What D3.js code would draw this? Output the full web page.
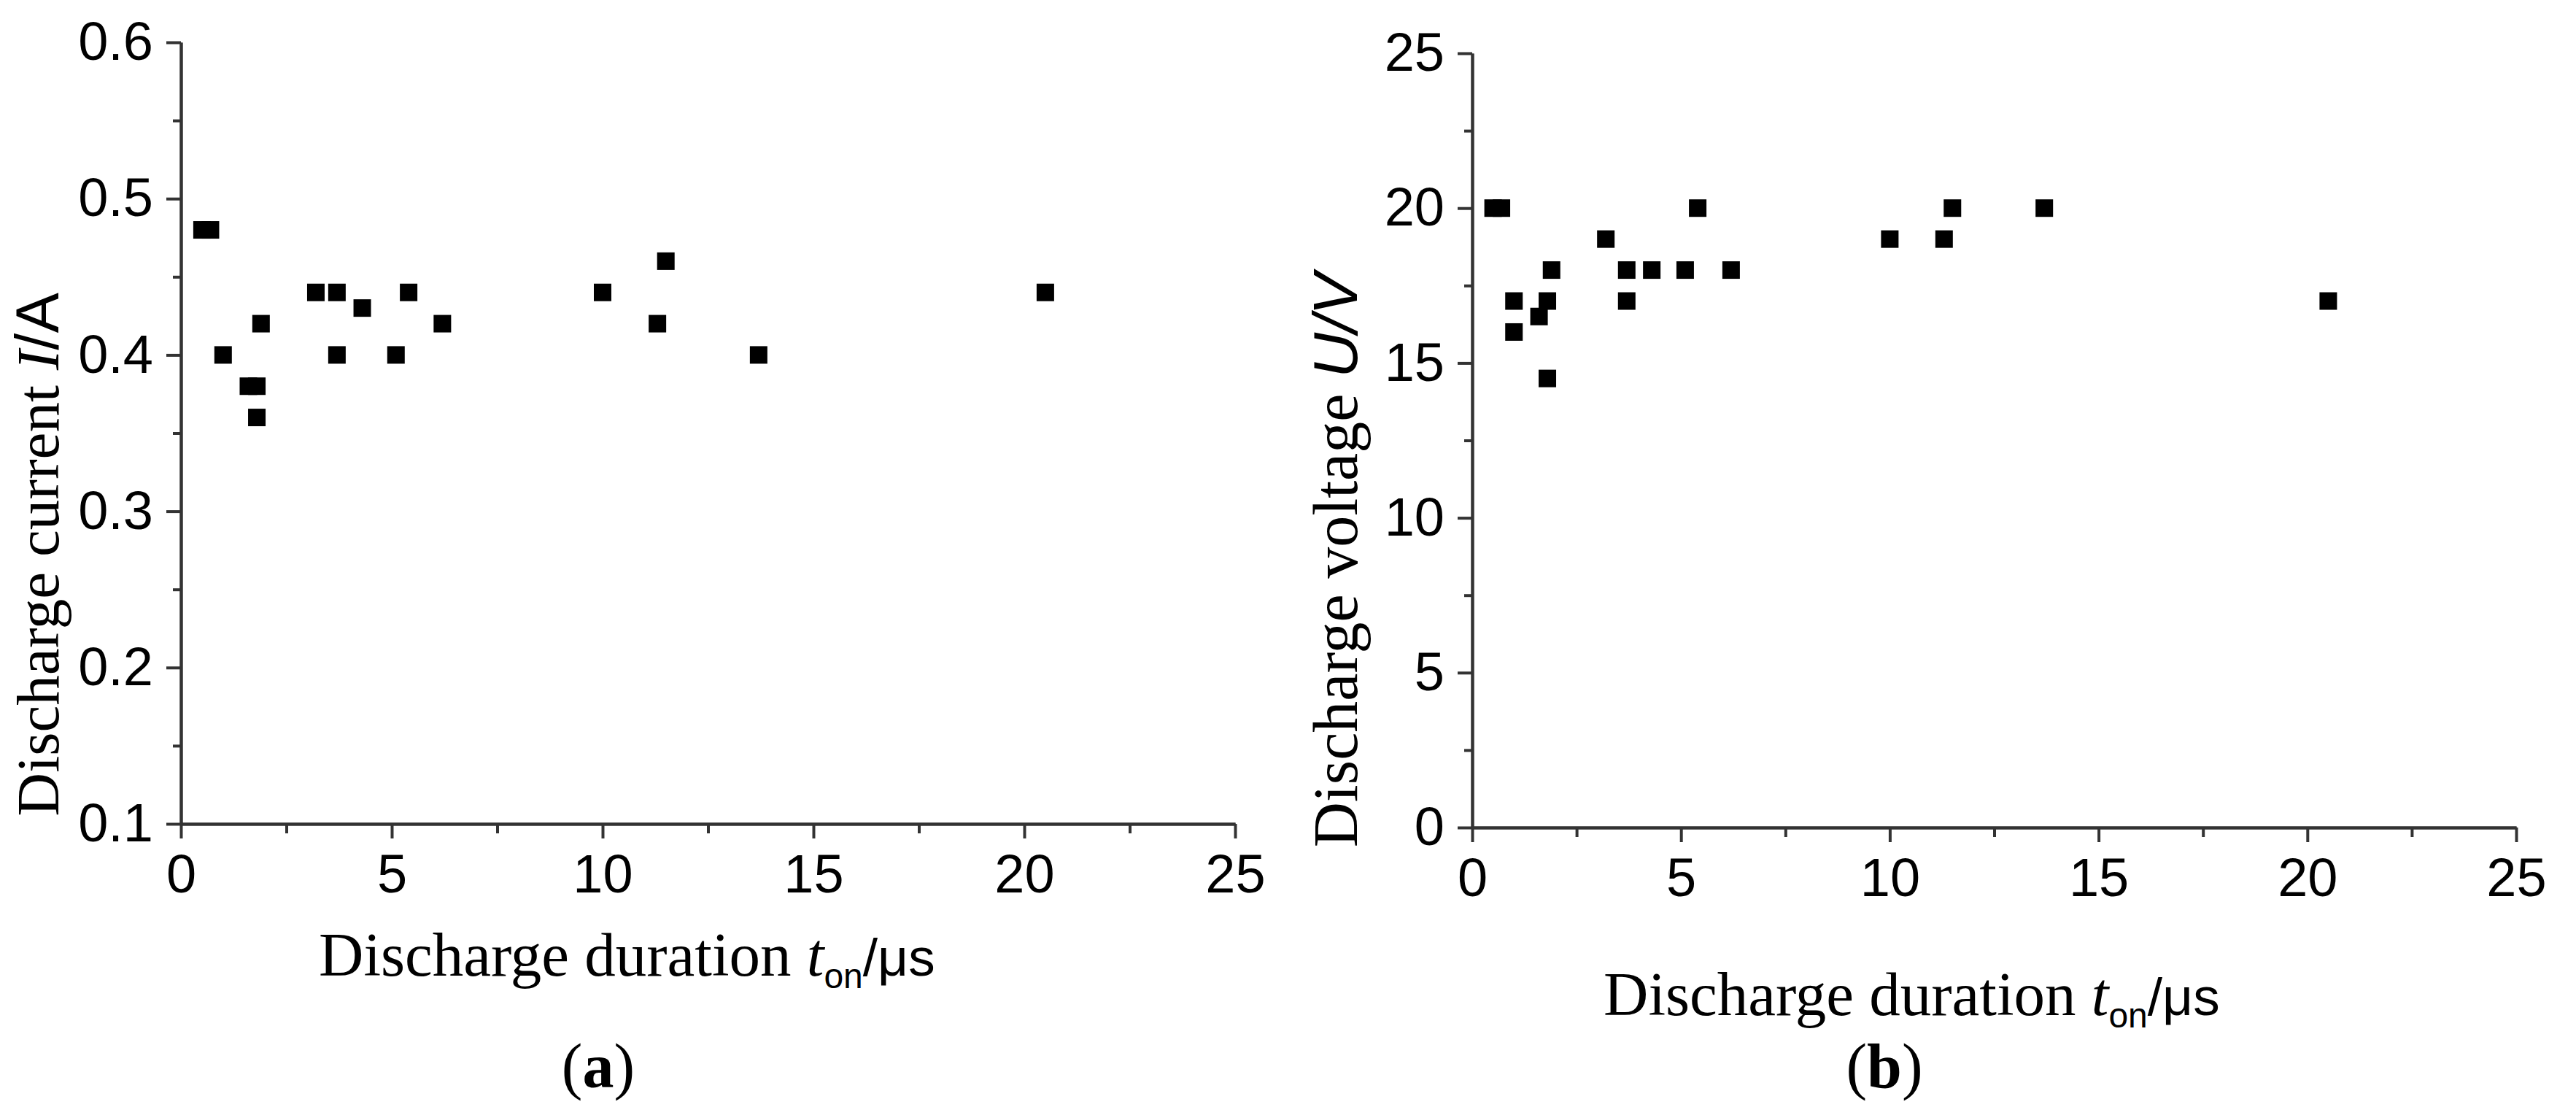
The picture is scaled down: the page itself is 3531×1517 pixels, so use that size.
<!DOCTYPE html>
<html>
<head>
<meta charset="utf-8">
<script src="https://cdn.jsdelivr.net/npm/d3@7"></script>
<style>
  body { margin: 0; background: #fff; }
  svg { display: block; }
</style>
</head>
<body>
<div id="chart"></div>
<script>
// discharge duration t_on (us) for each point
var durA = [0.5, 0.7, 1.0, 1.6, 1.8, 1.8, 1.9, 3.2, 3.7, 3.7, 4.3, 5.1, 5.4, 6.2, 10.0, 11.3, 11.5, 13.7, 20.5];
var currentA = [0.48, 0.48, 0.40, 0.38, 0.38, 0.36, 0.42, 0.44, 0.44, 0.40, 0.43, 0.40, 0.44, 0.42, 0.44, 0.42, 0.46, 0.40, 0.44];

var durB = [0.5, 0.7, 1.0, 1.0, 1.6, 1.8, 1.8, 1.9, 3.2, 3.7, 3.7, 4.3, 5.1, 5.4, 6.2, 10.0, 11.3, 11.5, 13.7, 20.5];
var voltageB = [20, 20, 17, 16, 16.5, 17, 14.5, 18, 19, 18, 17, 18, 18, 20, 18, 19, 19, 20, 20, 17];

var xTicks = [0, 5, 10, 15, 20, 25];
var xMinor = [2.5, 7.5, 12.5, 17.5, 22.5];
var yTicksA = [0.1, 0.2, 0.3, 0.4, 0.5, 0.6];
var yMinorA = [0.15, 0.25, 0.35, 0.45, 0.55];
var yTicksB = [0, 5, 10, 15, 20, 25];
var yMinorB = [2.5, 7.5, 12.5, 17.5, 22.5];

var width = 3531, height = 1517;
var axisColor = "#333";
var sans = "'Liberation Sans', Arial, sans-serif";
var serif = "'Liberation Serif', 'Times New Roman', serif";

var svg = d3.select("#chart")
  .append("svg")
  .attr("width", width)
  .attr("height", height);

function drawPanel(p) {
  var x = d3.scaleLinear().domain([0, 25]).range([p.left, p.right]);
  var y = d3.scaleLinear().domain(p.yDomain).range([p.bottom, p.top]);

  var g = svg.append("g");

  // minor ticks first, no labels
  g.append("g")
    .attr("transform", "translate(0," + p.bottom + ")")
    .call(d3.axisBottom(x).tickValues(xMinor).tickSize(13).tickSizeOuter(0).tickFormat(""))
    .call(styleAxis);
  g.append("g")
    .attr("transform", "translate(" + p.left + ",0)")
    .call(d3.axisLeft(y).tickValues(p.yMinor).tickSize(11).tickSizeOuter(0).tickFormat(""))
    .call(styleAxis);

  g.append("g")
    .attr("transform", "translate(0," + p.bottom + ")")
    .call(d3.axisBottom(x).tickValues(xTicks).tickSize(20).tickSizeOuter(0).tickPadding(21).tickFormat(d3.format("d")))
    .call(styleAxis);
  g.append("g")
    .attr("transform", "translate(" + p.left + ",0)")
    .call(d3.axisLeft(y).tickValues(p.yTicks).tickSize(20).tickSizeOuter(0).tickPadding(18).tickFormat(p.yFormat))
    .call(styleAxis);

  // square markers
  var pts = p.xs.map(function(d, i) { return [d, p.ys[i]]; });
  var s = 24;
  g.selectAll(".pt")
    .data(pts)
    .enter().append("rect")
    .attr("class", "pt")
    .attr("x", function(d) { return x(d[0]) - s / 2; })
    .attr("y", function(d) { return y(d[1]) - s / 2; })
    .attr("width", s)
    .attr("height", s)
    .attr("fill", "#000");

  // x title
  var xt = g.append("text")
    .attr("x", p.xTitleX)
    .attr("y", p.xTitleY)
    .attr("font-family", serif)
    .attr("font-size", 85)
    .attr("fill", "#000");
  xt.append("tspan").text("Discharge duration ");
  xt.append("tspan").attr("font-style", "italic").text("t");
  xt.append("tspan").attr("font-family", sans).attr("font-size", 48).attr("dy", 17).text("on");
  xt.append("tspan").attr("font-family", sans).attr("font-size", 73).attr("dy", -17).text("/μs");

  // y title
  var yt = g.append("text")
    .attr("transform", "translate(" + p.yTitleX + "," + p.yTitleY + ") rotate(-90)")
    .attr("text-anchor", "middle")
    .attr("font-family", serif)
    .attr("font-size", p.yTitleSize)
    .attr("fill", "#000");
  yt.append("tspan").text(p.yTitle);
  yt.append("tspan").attr("font-style", "italic").attr("font-family", p.yVarFont).text(p.yVar);
  yt.append("tspan").attr("font-style", p.yUnitStyle).attr("font-family", sans).text(p.yUnit);

  // panel label
  var lb = g.append("text")
    .attr("x", p.labelX)
    .attr("y", 1490)
    .attr("text-anchor", "middle")
    .attr("font-family", serif)
    .attr("font-size", 86)
    .attr("fill", "#000");
  lb.append("tspan").text("(");
  lb.append("tspan").attr("font-weight", "bold").text(p.label);
  lb.append("tspan").text(")");
}

function styleAxis(sel) {
  sel.select(".domain").attr("stroke", axisColor).attr("stroke-width", 4);
  sel.selectAll(".tick line").attr("stroke", axisColor).attr("stroke-width", 4);
  sel.selectAll(".tick text")
    .attr("font-family", sans)
    .attr("font-size", 74)
    .attr("fill", "#000");
}

drawPanel({
  left: 248, right: 1693, top: 58, bottom: 1129,
  yDomain: [0.1, 0.6], yTicks: yTicksA, yMinor: yMinorA, yFormat: d3.format(".1f"),
  xs: durA, ys: currentA,
  xTitleX: 437, xTitleY: 1337,
  yTitleX: 80, yTitleY: 760, yTitleSize: 83,
  yTitle: "Discharge current ", yVar: "I", yVarFont: serif, yUnit: "/A", yUnitStyle: "normal",
  label: "a", labelX: 820
});

drawPanel({
  left: 2018, right: 3449, top: 73, bottom: 1134,
  yDomain: [0, 25], yTicks: yTicksB, yMinor: yMinorB, yFormat: d3.format("d"),
  xs: durB, ys: voltageB,
  xTitleX: 2198, xTitleY: 1391,
  yTitleX: 1860, yTitleY: 768, yTitleSize: 86,
  yTitle: "Discharge voltage ", yVar: "U", yVarFont: sans, yUnit: "/V", yUnitStyle: "italic",
  label: "b", labelX: 2583
});
</script>
</body>
</html>
